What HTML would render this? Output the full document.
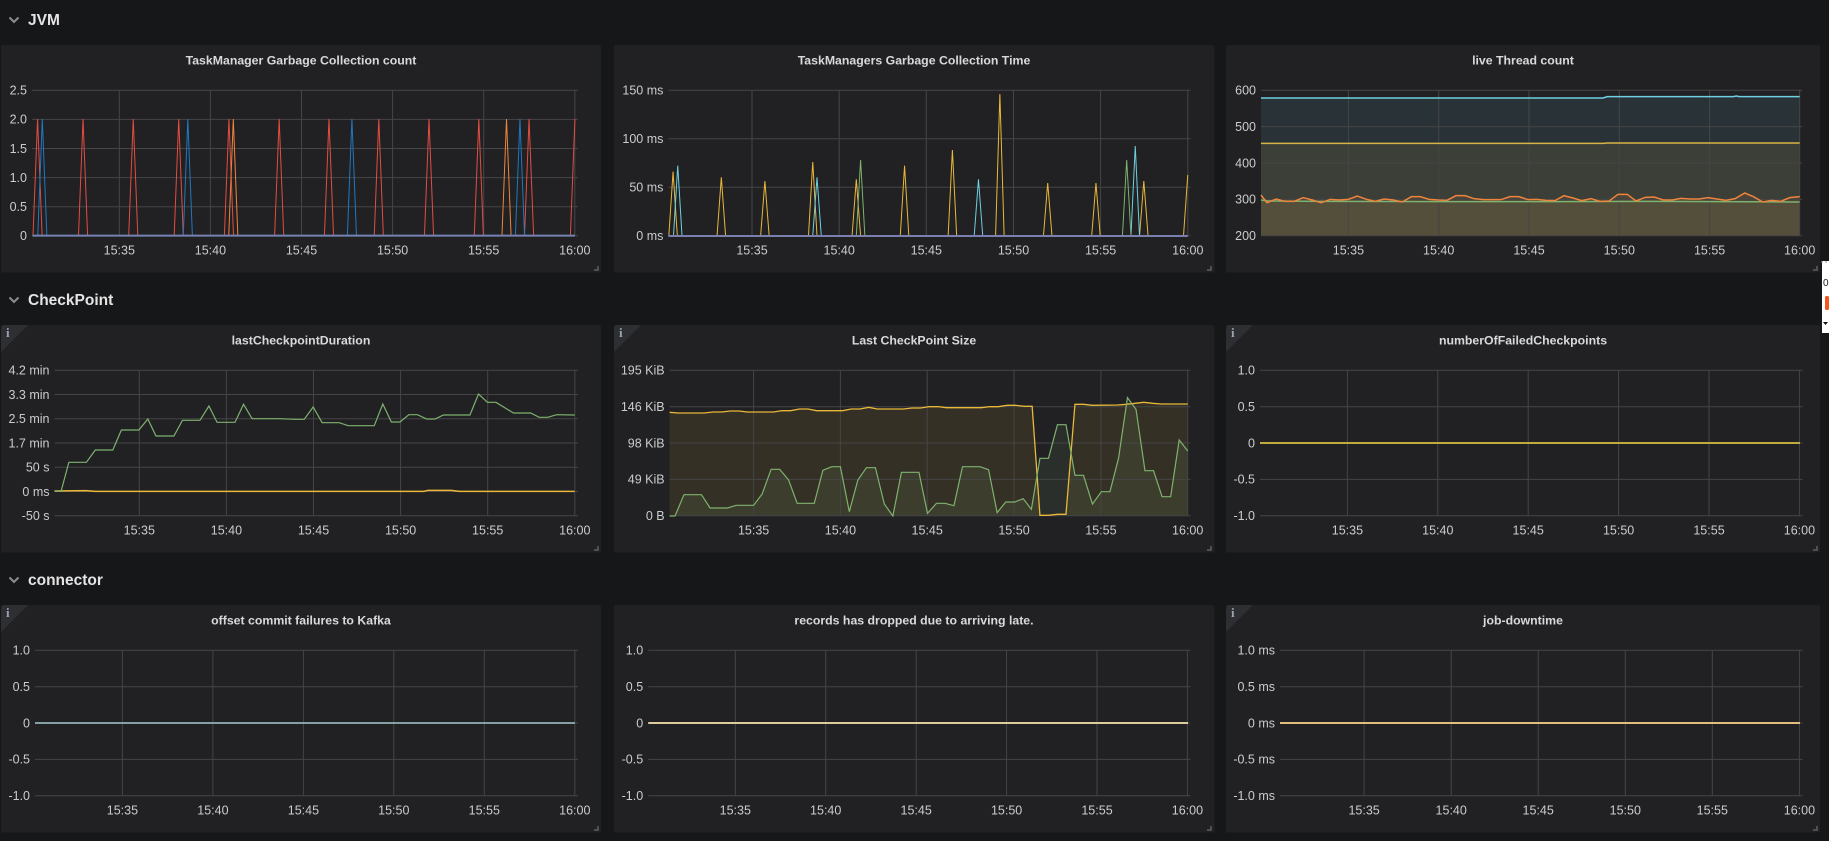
<!DOCTYPE html>
<html><head><meta charset="utf-8"><style>
html,body{margin:0;padding:0;background:#161719;overflow:hidden}
svg{display:block}
.pn{fill:#212124}
.g line{stroke:#454547;stroke-width:1}
.t{font-family:"Liberation Sans",sans-serif;font-size:12.5px;fill:#cbcccd}
.ty{text-anchor:end}
.tx{text-anchor:middle}
.ti{font-family:"Liberation Sans",sans-serif;font-size:12.3px;font-weight:bold;fill:#d8d9da;text-anchor:middle}
.hd{font-family:"Liberation Sans",sans-serif;font-size:15.5px;font-weight:bold;fill:#e4e4e4}
.chev{fill:none;stroke:#8e8f92;stroke-width:2}
.ic{fill:#2e2f33}
.ii{font-family:"Liberation Serif",serif;font-weight:bold;font-size:13px;fill:#9aa3b0}
.rs{fill:none;stroke:#5e5f62;stroke-width:1.5}
.ln{fill:none;vector-effect:non-scaling-stroke;stroke-width:1}
</style></head><body>
<svg width="1829" height="841" viewBox="0 0 1829 841" xmlns="http://www.w3.org/2000/svg">
<rect width="1829" height="841" fill="#161719"/>

<!-- Row headers -->
<polyline class="chev" points="9.5,17.5 14,22 18.5,17.5"/>
<text class="hd" x="28" y="25">JVM</text>
<polyline class="chev" points="9.5,297.5 14,302 18.5,297.5"/>
<text class="hd" x="28" y="305">CheckPoint</text>
<polyline class="chev" points="9.5,577.5 14,582 18.5,577.5"/>
<text class="hd" x="28" y="585">connector</text>

<!-- Panels -->
<rect class="pn" x="1" y="45" width="600" height="227.5" rx="2"/>
<rect class="pn" x="614" y="45" width="600.5" height="227.5" rx="2"/>
<rect class="pn" x="1226" y="45" width="594" height="227.5" rx="2"/>
<rect class="pn" x="1" y="325" width="600" height="227.5" rx="2"/>
<rect class="pn" x="614" y="325" width="600.5" height="227.5" rx="2"/>
<rect class="pn" x="1226" y="325" width="594" height="227.5" rx="2"/>
<rect class="pn" x="1" y="605" width="600" height="227.5" rx="2"/>
<rect class="pn" x="614" y="605" width="600.5" height="227.5" rx="2"/>
<rect class="pn" x="1226" y="605" width="594" height="227.5" rx="2"/>

<!-- info corners -->
<polygon class="ic" points="1,327 1,352 28,325 3,325"/><text class="ii" x="6" y="337">i</text>
<polygon class="ic" points="614,327 614,352 641,325 616,325"/><text class="ii" x="619" y="337">i</text>
<polygon class="ic" points="1226,327 1226,352 1253,325 1228,325"/><text class="ii" x="1231" y="337">i</text>
<polygon class="ic" points="1,607 1,632 28,605 3,605"/><text class="ii" x="6" y="617">i</text>
<polygon class="ic" points="1226,607 1226,632 1253,605 1228,605"/><text class="ii" x="1231" y="617">i</text>

<!-- resize handles -->
<path class="rs" d="M594,270 H598 V266"/>
<path class="rs" d="M1207,270 H1211 V266"/>
<path class="rs" d="M1813,270 H1817 V266"/>
<path class="rs" d="M594,550 H598 V546"/>
<path class="rs" d="M1207,550 H1211 V546"/>
<path class="rs" d="M1813,550 H1817 V546"/>
<path class="rs" d="M594,830 H598 V826"/>
<path class="rs" d="M1207,830 H1211 V826"/>
<path class="rs" d="M1813,830 H1817 V826"/>

<!-- Titles -->
<text class="ti" x="301" y="64.5">TaskManager Garbage Collection count</text>
<text class="ti" x="914" y="64.5">TaskManagers Garbage Collection Time</text>
<text class="ti" x="1523" y="64.5">live Thread count</text>
<text class="ti" x="301" y="344.5">lastCheckpointDuration</text>
<text class="ti" x="914" y="344.5">Last CheckPoint Size</text>
<text class="ti" x="1523" y="344.5">numberOfFailedCheckpoints</text>
<text class="ti" x="301" y="624.5">offset commit failures to Kafka</text>
<text class="ti" x="914" y="624.5">records has dropped due to arriving late.</text>
<text class="ti" x="1523" y="624.5">job-downtime</text>

<!-- ===== P1 ===== -->
<g class="g">
<line x1="32" x2="578" y1="90.3" y2="90.3"/><line x1="32" x2="578" y1="119.4" y2="119.4"/><line x1="32" x2="578" y1="148.5" y2="148.5"/><line x1="32" x2="578" y1="177.6" y2="177.6"/><line x1="32" x2="578" y1="206.7" y2="206.7"/><line x1="32" x2="578" y1="235.8" y2="235.8"/>
<line x1="119.3" x2="119.3" y1="90.3" y2="235.8"/><line x1="210.4" x2="210.4" y1="90.3" y2="235.8"/><line x1="301.5" x2="301.5" y1="90.3" y2="235.8"/><line x1="392.6" x2="392.6" y1="90.3" y2="235.8"/><line x1="483.7" x2="483.7" y1="90.3" y2="235.8"/><line x1="574.8" x2="574.8" y1="90.3" y2="235.8"/>
</g>
<g class="t ty"><text x="27" y="94.6">2.5</text><text x="27" y="123.7">2.0</text><text x="27" y="152.8">1.5</text><text x="27" y="181.9">1.0</text><text x="27" y="211">0.5</text><text x="27" y="240.1">0</text></g>
<g class="t tx"><text x="119.3" y="254.3">15:35</text><text x="210.4" y="254.3">15:40</text><text x="301.5" y="254.3">15:45</text><text x="392.6" y="254.3">15:50</text><text x="483.7" y="254.3">15:55</text><text x="574.8" y="254.3">16:00</text></g>
<g transform="translate(0,0) scale(0.39541,0.33333)">
<path class="ln" stroke="#e24d42" fill="#e24d42" fill-opacity="0.12" d="M83.5,707 L95,357 L106.5,707 M198.5,707 L210,357 L221.5,707 M325.5,707 L337,357 L348.5,707 M440.5,707 L452,357 L463.5,707 M567.5,707 L579,357 L590.5,707 M694.5,707 L706,357 L717.5,707 M820.5,707 L832,357 L843.5,707 M946.5,707 L958,357 L969.5,707 M1073.5,707 L1085,357 L1096.5,707 M1199.5,707 L1211,357 L1222.5,707 M1326.5,707 L1338,357 L1349.5,707 M1442.5,707 L1454,357"/>
<path class="ln" stroke="#1f78c1" fill="#1f78c1" fill-opacity="0.12" d="M95.5,707 L107,357 L118.5,707 M463.5,707 L475,357 L486.5,707 M878.5,707 L890,357 L901.5,707 M1303.5,707 L1315,357 L1326.5,707"/>
<path class="ln" stroke="#ef843c" fill="#ef843c" fill-opacity="0.12" d="M578.5,707 L590,357 L601.5,707 M1269.5,707 L1281,357 L1292.5,707"/>
<path class="ln" stroke="#7682b2" style="stroke-width:2" d="M82,707 H1454"/>
</g>

<!-- ===== P2 ===== -->
<g class="g">
<line x1="668.4" x2="1190.5" y1="90.3" y2="90.3"/><line x1="668.4" x2="1190.5" y1="138.8" y2="138.8"/><line x1="668.4" x2="1190.5" y1="187.3" y2="187.3"/><line x1="668.4" x2="1190.5" y1="235.8" y2="235.8"/>
<line x1="752" x2="752" y1="90.3" y2="235.8"/><line x1="839.2" x2="839.2" y1="90.3" y2="235.8"/><line x1="926.3" x2="926.3" y1="90.3" y2="235.8"/><line x1="1013.5" x2="1013.5" y1="90.3" y2="235.8"/><line x1="1100.6" x2="1100.6" y1="90.3" y2="235.8"/><line x1="1187.8" x2="1187.8" y1="90.3" y2="235.8"/>
</g>
<g class="t ty"><text x="663.4" y="94.6">150 ms</text><text x="663.4" y="143.1">100 ms</text><text x="663.4" y="191.6">50 ms</text><text x="663.4" y="240.1">0 ms</text></g>
<g class="t tx"><text x="752" y="254.3">15:35</text><text x="839.2" y="254.3">15:40</text><text x="926.3" y="254.3">15:45</text><text x="1013.5" y="254.3">15:50</text><text x="1100.6" y="254.3">15:55</text><text x="1187.8" y="254.3">16:00</text></g>
<g transform="translate(612,45) scale(0.38903,0.33333)">
<path class="ln" stroke="#eab839" fill="#eab839" fill-opacity="0.1" d="M146,573 L157,380 L168,573 M270,573 L281,397 L292,573 M382,573 L393,408 L404,573 M505,573 L516,351 L527,573 M617,573 L628,403 L639,573 M741,573 L752,362 L763,573 M864,573 L875,315 L886,573 M986,573 L997,147 L1008,573 M1109,573 L1120,414 L1131,573 M1233,573 L1244,414 L1255,573 M1356,573 L1367,408 L1378,573 M1469,573 L1480,390"/>
<path class="ln" stroke="#6ed0e0" fill="#6ed0e0" fill-opacity="0.1" d="M158,573 L169,362 L180,573 M516,573 L527,397 L538,573 M931,573 L942,403 L953,573 M1334,573 L1345,303 L1356,573"/>
<path class="ln" stroke="#7eb26d" fill="#7eb26d" fill-opacity="0.1" d="M628,573 L639,345 L650,573 M1312,573 L1323,345 L1334,573"/>
<path class="ln" stroke="#7a7fb0" style="stroke-width:2" d="M145,573 H1480"/>
</g>

<!-- ===== P3 ===== -->
<g transform="translate(1200,0) scale(0.40112,0.33333)">
<path fill="#6ed0e0" fill-opacity="0.1" d="M152,294 H1005 L1015,290 H1330 L1337,288 L1345,290 H1495 V708 H152 Z"/>
<path fill="#eab839" fill-opacity="0.1" d="M152,430 H1005 L1015,429 H1495 V708 H152 Z"/>
<path fill="#7eb26d" fill-opacity="0.1" d="M152,600 L170,603 L300,604 L600,605 L900,605 L1100,604 L1300,605 L1495,606 V708 H152 Z"/>
<path fill="#ef843c" fill-opacity="0.1" d="M152,585 L167,608 L190,597 L212,604 L235,604 L257,593 L280,600 L302,608 L325,598 L347,600 L370,598 L392,588 L415,598 L437,604 L459,597 L482,600 L504,606 L527,590 L549,590 L571,598 L594,600 L616,601 L638,587 L661,587 L683,596 L706,599 L728,599 L750,599 L773,590 L795,590 L818,599 L840,598 L862,601 L885,602 L907,587 L930,594 L952,602 L975,596 L997,604 L1020,603 L1042,583 L1065,583 L1087,603 L1110,592 L1132,591 L1155,600 L1177,600 L1199,595 L1222,597 L1244,597 L1266,593 L1289,597 L1311,601 L1334,596 L1358,579 L1380,590 L1403,606 L1425,601 L1448,604 L1470,593 L1495,590 V708 H152 Z"/>
</g>
<g class="g">
<line x1="1261" x2="1802" y1="90.3" y2="90.3"/><line x1="1261" x2="1802" y1="126.7" y2="126.7"/><line x1="1261" x2="1802" y1="163" y2="163"/><line x1="1261" x2="1802" y1="199.4" y2="199.4"/><line x1="1261" x2="1802" y1="235.8" y2="235.8"/>
<line x1="1348.4" x2="1348.4" y1="90.3" y2="235.8"/><line x1="1438.7" x2="1438.7" y1="90.3" y2="235.8"/><line x1="1529" x2="1529" y1="90.3" y2="235.8"/><line x1="1619.3" x2="1619.3" y1="90.3" y2="235.8"/><line x1="1709.6" x2="1709.6" y1="90.3" y2="235.8"/><line x1="1799.7" x2="1799.7" y1="90.3" y2="235.8"/>
</g>
<g transform="translate(1200,0) scale(0.40112,0.33333)">
<path class="ln" stroke="#6ed0e0" style="stroke-width:1.5" d="M152,294 H1005 L1015,290 H1330 L1337,288 L1345,290 H1495"/>
<path class="ln" stroke="#d9b445" style="stroke-width:1.5" d="M152,430 H1005 L1015,429 H1495"/>
<path class="ln" stroke="#7eb26d" style="stroke-width:1.5" d="M152,600 L170,603 L300,604 L600,605 L900,605 L1100,604 L1300,605 L1495,606"/>
<path class="ln" stroke="#ef843c" style="stroke-width:1.5" d="M152,585 L167,608 L190,597 L212,604 L235,604 L257,593 L280,600 L302,608 L325,598 L347,600 L370,598 L392,588 L415,598 L437,604 L459,597 L482,600 L504,606 L527,590 L549,590 L571,598 L594,600 L616,601 L638,587 L661,587 L683,596 L706,599 L728,599 L750,599 L773,590 L795,590 L818,599 L840,598 L862,601 L885,602 L907,587 L930,594 L952,602 L975,596 L997,604 L1020,603 L1042,583 L1065,583 L1087,603 L1110,592 L1132,591 L1155,600 L1177,600 L1199,595 L1222,597 L1244,597 L1266,593 L1289,597 L1311,601 L1334,596 L1358,579 L1380,590 L1403,606 L1425,601 L1448,604 L1470,593 L1495,590"/>
</g>
<g class="t ty"><text x="1256" y="94.6">600</text><text x="1256" y="131">500</text><text x="1256" y="167.3">400</text><text x="1256" y="203.7">300</text><text x="1256" y="240.1">200</text></g>
<g class="t tx"><text x="1348.4" y="254.3">15:35</text><text x="1438.7" y="254.3">15:40</text><text x="1529" y="254.3">15:45</text><text x="1619.3" y="254.3">15:50</text><text x="1709.6" y="254.3">15:55</text><text x="1799.7" y="254.3">16:00</text></g>

<!-- ===== P4 ===== -->
<g class="g">
<line x1="54.5" x2="578" y1="370.3" y2="370.3"/><line x1="54.5" x2="578" y1="394.55" y2="394.55"/><line x1="54.5" x2="578" y1="418.8" y2="418.8"/><line x1="54.5" x2="578" y1="443.05" y2="443.05"/><line x1="54.5" x2="578" y1="467.3" y2="467.3"/><line x1="54.5" x2="578" y1="491.55" y2="491.55"/><line x1="54.5" x2="578" y1="515.8" y2="515.8"/>
<line x1="139.3" x2="139.3" y1="370.3" y2="515.8"/><line x1="226.4" x2="226.4" y1="370.3" y2="515.8"/><line x1="313.5" x2="313.5" y1="370.3" y2="515.8"/><line x1="400.6" x2="400.6" y1="370.3" y2="515.8"/><line x1="487.7" x2="487.7" y1="370.3" y2="515.8"/><line x1="574.8" x2="574.8" y1="370.3" y2="515.8"/>
</g>
<g class="t ty"><text x="49.5" y="374.6">4.2 min</text><text x="49.5" y="398.85">3.3 min</text><text x="49.5" y="423.1">2.5 min</text><text x="49.5" y="447.35">1.7 min</text><text x="49.5" y="471.6">50 s</text><text x="49.5" y="495.85">0 ms</text><text x="49.5" y="520.1">-50 s</text></g>
<g class="t tx"><text x="139.3" y="534.3">15:35</text><text x="226.4" y="534.3">15:40</text><text x="313.5" y="534.3">15:45</text><text x="400.6" y="534.3">15:50</text><text x="487.7" y="534.3">15:55</text><text x="574.8" y="534.3">16:00</text></g>
<g transform="translate(0,325) scale(0.38903,0.33333)">
<path class="ln" stroke="#eab839" style="stroke-width:1.5" d="M140,498 L220,497 L245,499 L1090,499 L1100,496 L1160,496 L1180,499 L1477,499"/>
<path class="ln" stroke="#7eb26d" style="stroke-width:1.2" d="M140,499 L157,499 L177,412 L222,412 L245,375 L290,375 L312,315 L357,315 L380,282 L401,333 L447,333 L469,286 L514,286 L537,243 L558,292 L604,292 L626,238 L648,281 L715,281 L760,283 L782,283 L805,246 L828,293 L872,293 L895,302 L962,302 L984,237 L1006,291 L1028,291 L1051,269 L1073,269 L1097,282 L1118,282 L1140,270 L1208,270 L1230,207 L1253,232 L1275,232 L1297,248 L1320,264 L1364,264 L1386,277 L1408,277 L1431,269 L1477,270"/>
</g>

<!-- ===== P5 ===== -->
<g transform="translate(612,325) scale(0.38903,0.33333)">
<path fill="#eab839" fill-opacity="0.1" d="M148,262 L170,264 L237,264 L260,261 L282,261 L304,258 L326,258 L348,261 L415,261 L437,257 L459,257 L482,252 L504,252 L526,257 L593,257 L615,252 L637,252 L660,247 L682,252 L749,252 L771,249 L793,249 L816,245 L838,245 L860,248 L949,248 L971,245 L993,245 L1016,241 L1038,241 L1060,244 L1080,244 L1100,571 L1122,571 L1145,568 L1167,568 L1190,238 L1212,238 L1235,241 L1300,240 L1322,238 L1345,235 L1367,232 L1390,235 L1412,237 L1480,237 V573 H148 Z"/>
<path fill="#7eb26d" fill-opacity="0.1" d="M148,573 L162,573 L185,509 L230,509 L252,549 L297,549 L319,541 L364,541 L386,507 L409,433 L431,433 L454,465 L476,535 L520,535 L542,436 L565,425 L587,425 L610,560 L632,465 L654,428 L677,428 L700,537 L722,573 L744,442 L789,442 L811,565 L834,535 L856,535 L879,542 L901,425 L946,425 L968,434 L990,563 L1012,531 L1035,531 L1057,521 L1078,553 L1100,400 L1122,400 L1145,299 L1167,299 L1190,451 L1212,451 L1235,537 L1258,500 L1280,500 L1302,400 L1325,218 L1347,253 L1370,437 L1392,437 L1414,515 L1436,515 L1458,345 L1480,378 V573 H148 Z"/>
</g>
<g class="g">
<line x1="669.6" x2="1190.5" y1="370.3" y2="370.3"/><line x1="669.6" x2="1190.5" y1="406.7" y2="406.7"/><line x1="669.6" x2="1190.5" y1="443.05" y2="443.05"/><line x1="669.6" x2="1190.5" y1="479.4" y2="479.4"/><line x1="669.6" x2="1190.5" y1="515.8" y2="515.8"/>
<line x1="753.6" x2="753.6" y1="370.3" y2="515.8"/><line x1="840.4" x2="840.4" y1="370.3" y2="515.8"/><line x1="927.2" x2="927.2" y1="370.3" y2="515.8"/><line x1="1014" x2="1014" y1="370.3" y2="515.8"/><line x1="1100.9" x2="1100.9" y1="370.3" y2="515.8"/><line x1="1187.7" x2="1187.7" y1="370.3" y2="515.8"/>
</g>
<g transform="translate(612,325) scale(0.38903,0.33333)">
<path class="ln" stroke="#eab839" style="stroke-width:1.3" d="M148,262 L170,264 L237,264 L260,261 L282,261 L304,258 L326,258 L348,261 L415,261 L437,257 L459,257 L482,252 L504,252 L526,257 L593,257 L615,252 L637,252 L660,247 L682,252 L749,252 L771,249 L793,249 L816,245 L838,245 L860,248 L949,248 L971,245 L993,245 L1016,241 L1038,241 L1060,244 L1080,244 L1100,571 L1122,571 L1145,568 L1167,568 L1190,238 L1212,238 L1235,241 L1300,240 L1322,238 L1345,235 L1367,232 L1390,235 L1412,237 L1480,237"/>
<path class="ln" stroke="#7eb26d" style="stroke-width:1.2" d="M148,573 L162,573 L185,509 L230,509 L252,549 L297,549 L319,541 L364,541 L386,507 L409,433 L431,433 L454,465 L476,535 L520,535 L542,436 L565,425 L587,425 L610,560 L632,465 L654,428 L677,428 L700,537 L722,573 L744,442 L789,442 L811,565 L834,535 L856,535 L879,542 L901,425 L946,425 L968,434 L990,563 L1012,531 L1035,531 L1057,521 L1078,553 L1100,400 L1122,400 L1145,299 L1167,299 L1190,451 L1212,451 L1235,537 L1258,500 L1280,500 L1302,400 L1325,218 L1347,253 L1370,437 L1392,437 L1414,515 L1436,515 L1458,345 L1480,378"/>
</g>
<g class="t ty"><text x="664.6" y="374.6">195 KiB</text><text x="664.6" y="411">146 KiB</text><text x="664.6" y="447.35">98 KiB</text><text x="664.6" y="483.7">49 KiB</text><text x="664.6" y="520.1">0 B</text></g>
<g class="t tx"><text x="753.6" y="534.3">15:35</text><text x="840.4" y="534.3">15:40</text><text x="927.2" y="534.3">15:45</text><text x="1014" y="534.3">15:50</text><text x="1100.9" y="534.3">15:55</text><text x="1187.7" y="534.3">16:00</text></g>

<!-- ===== P6 ===== -->
<g class="g">
<line x1="1260" x2="1802.5" y1="370.3" y2="370.3"/><line x1="1260" x2="1802.5" y1="406.7" y2="406.7"/><line x1="1260" x2="1802.5" y1="443.05" y2="443.05"/><line x1="1260" x2="1802.5" y1="479.4" y2="479.4"/><line x1="1260" x2="1802.5" y1="515.8" y2="515.8"/>
<line x1="1347.4" x2="1347.4" y1="370.3" y2="515.8"/><line x1="1437.8" x2="1437.8" y1="370.3" y2="515.8"/><line x1="1528.2" x2="1528.2" y1="370.3" y2="515.8"/><line x1="1618.6" x2="1618.6" y1="370.3" y2="515.8"/><line x1="1709" x2="1709" y1="370.3" y2="515.8"/><line x1="1799.4" x2="1799.4" y1="370.3" y2="515.8"/>
</g>
<line x1="1260" x2="1800" y1="443" y2="443" stroke="#bfab40" stroke-width="2"/>
<g class="t ty"><text x="1255" y="374.6">1.0</text><text x="1255" y="411">0.5</text><text x="1255" y="447.35">0</text><text x="1255" y="483.7">-0.5</text><text x="1255" y="520.1">-1.0</text></g>
<g class="t tx"><text x="1347.4" y="534.3">15:35</text><text x="1437.8" y="534.3">15:40</text><text x="1528.2" y="534.3">15:45</text><text x="1618.6" y="534.3">15:50</text><text x="1709" y="534.3">15:55</text><text x="1799.4" y="534.3">16:00</text></g>

<!-- ===== P7 ===== -->
<g class="g">
<line x1="35" x2="578" y1="650.3" y2="650.3"/><line x1="35" x2="578" y1="686.7" y2="686.7"/><line x1="35" x2="578" y1="723.05" y2="723.05"/><line x1="35" x2="578" y1="759.4" y2="759.4"/><line x1="35" x2="578" y1="795.8" y2="795.8"/>
<line x1="122.4" x2="122.4" y1="650.3" y2="795.8"/><line x1="212.9" x2="212.9" y1="650.3" y2="795.8"/><line x1="303.4" x2="303.4" y1="650.3" y2="795.8"/><line x1="393.8" x2="393.8" y1="650.3" y2="795.8"/><line x1="484.3" x2="484.3" y1="650.3" y2="795.8"/><line x1="574.8" x2="574.8" y1="650.3" y2="795.8"/>
</g>
<line x1="35" x2="575" y1="723" y2="723" stroke="#93b2b6" stroke-width="1.8"/>
<g class="t ty"><text x="30" y="654.6">1.0</text><text x="30" y="691">0.5</text><text x="30" y="727.35">0</text><text x="30" y="763.7">-0.5</text><text x="30" y="800.1">-1.0</text></g>
<g class="t tx"><text x="122.4" y="814.3">15:35</text><text x="212.9" y="814.3">15:40</text><text x="303.4" y="814.3">15:45</text><text x="393.8" y="814.3">15:50</text><text x="484.3" y="814.3">15:55</text><text x="574.8" y="814.3">16:00</text></g>

<!-- ===== P8 ===== -->
<g class="g">
<line x1="648.2" x2="1190.5" y1="650.3" y2="650.3"/><line x1="648.2" x2="1190.5" y1="686.7" y2="686.7"/><line x1="648.2" x2="1190.5" y1="723.05" y2="723.05"/><line x1="648.2" x2="1190.5" y1="759.4" y2="759.4"/><line x1="648.2" x2="1190.5" y1="795.8" y2="795.8"/>
<line x1="735.3" x2="735.3" y1="650.3" y2="795.8"/><line x1="825.7" x2="825.7" y1="650.3" y2="795.8"/><line x1="916.2" x2="916.2" y1="650.3" y2="795.8"/><line x1="1006.6" x2="1006.6" y1="650.3" y2="795.8"/><line x1="1097" x2="1097" y1="650.3" y2="795.8"/><line x1="1187.4" x2="1187.4" y1="650.3" y2="795.8"/>
</g>
<line x1="648.2" x2="1188" y1="723" y2="723" stroke="#dccb9c" stroke-width="2"/>
<g class="t ty"><text x="643.2" y="654.6">1.0</text><text x="643.2" y="691">0.5</text><text x="643.2" y="727.35">0</text><text x="643.2" y="763.7">-0.5</text><text x="643.2" y="800.1">-1.0</text></g>
<g class="t tx"><text x="735.3" y="814.3">15:35</text><text x="825.7" y="814.3">15:40</text><text x="916.2" y="814.3">15:45</text><text x="1006.6" y="814.3">15:50</text><text x="1097" y="814.3">15:55</text><text x="1187.4" y="814.3">16:00</text></g>

<!-- ===== P9 ===== -->
<g class="g">
<line x1="1280" x2="1802.5" y1="650.3" y2="650.3"/><line x1="1280" x2="1802.5" y1="686.7" y2="686.7"/><line x1="1280" x2="1802.5" y1="723.05" y2="723.05"/><line x1="1280" x2="1802.5" y1="759.4" y2="759.4"/><line x1="1280" x2="1802.5" y1="795.8" y2="795.8"/>
<line x1="1364.1" x2="1364.1" y1="650.3" y2="795.8"/><line x1="1451.2" x2="1451.2" y1="650.3" y2="795.8"/><line x1="1538.2" x2="1538.2" y1="650.3" y2="795.8"/><line x1="1625.3" x2="1625.3" y1="650.3" y2="795.8"/><line x1="1712.3" x2="1712.3" y1="650.3" y2="795.8"/><line x1="1799.4" x2="1799.4" y1="650.3" y2="795.8"/>
</g>
<line x1="1280" x2="1800" y1="723" y2="723" stroke="#e2bd7e" stroke-width="2"/>
<g class="t ty"><text x="1275" y="654.6">1.0 ms</text><text x="1275" y="691">0.5 ms</text><text x="1275" y="727.35">0 ms</text><text x="1275" y="763.7">-0.5 ms</text><text x="1275" y="800.1">-1.0 ms</text></g>
<g class="t tx"><text x="1364.1" y="814.3">15:35</text><text x="1451.2" y="814.3">15:40</text><text x="1538.2" y="814.3">15:45</text><text x="1625.3" y="814.3">15:50</text><text x="1712.3" y="814.3">15:55</text><text x="1799.4" y="814.3">16:00</text></g>

<!-- right-edge overlay -->
<rect x="1822" y="261" width="7" height="72" fill="#ffffff"/>
<line x1="1821" x2="1829" y1="262" y2="262" stroke="#999" stroke-width="1" stroke-dasharray="2,2"/>
<text x="1823" y="286" font-family="Liberation Sans,sans-serif" font-size="10" fill="#222">0</text>
<rect x="1825" y="296" width="4" height="14" rx="1.5" fill="#f2581e"/>
<polygon points="1823,322 1828,322 1825.5,325" fill="#111"/>
</svg>
</body></html>
